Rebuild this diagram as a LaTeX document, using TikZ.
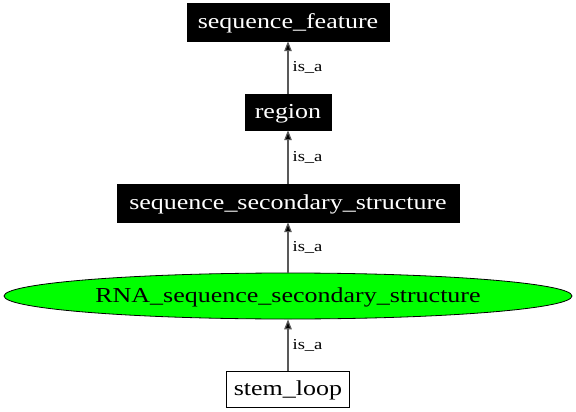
\documentclass[tikz,border=0pt]{standalone}
\usepackage{fontspec}
\setmainfont{Liberation Serif}
\newfontfamily\nodefont[FakeStretch=1.22]{Liberation Serif}
\usetikzlibrary{arrows.meta,shapes.geometric}
\begin{document}
\begin{tikzpicture}[x=1pt,y=-1pt,
  nfont/.style={font=\nodefont\fontsize{21.3}{26}\selectfont,text height=18pt,text depth=4.5pt},
  blackbox/.style={rectangle,fill=black,draw=black,text=white,inner sep=0pt,nfont},
  whitebox/.style={rectangle,fill=white,draw=black,line width=0.8pt,inner sep=0pt,nfont},
  greenell/.style={ellipse,fill=green,draw=black,line width=0.8pt,inner sep=0pt,nfont},
  edge/.style={draw=black!65,line width=1.2pt,-{Triangle[length=10pt,width=7.5pt,fill=black]}},
  lbl/.style={anchor=west,inner sep=0pt,xshift=4pt,font=\nodefont\fontsize{15.2}{18}\selectfont}]
\useasboundingbox (0,0) rectangle (576,412);
\node[blackbox,minimum width=202pt,minimum height=38pt] (sf) at (288,22) {sequence\_feature};
\node[blackbox,minimum width=86pt,minimum height=36pt] (reg) at (288,112) {region};
\node[blackbox,minimum width=342pt,minimum height=38pt] (sss) at (288,203) {sequence\_secondary\_structure};
\node[greenell,minimum width=568pt,minimum height=46pt] (rna) at (288,296) {RNA\_sequence\_secondary\_structure};
\node[whitebox,minimum width=123pt,minimum height=36pt] (stem) at (288,389) {stem\_loop};
\draw[edge] (reg.north) -- node[lbl] {is\_a} (sf.south);
\draw[edge] (sss.north) -- node[lbl] {is\_a} (reg.south);
\draw[edge] (rna.north) -- node[lbl] {is\_a} (sss.south);
\draw[edge] (stem.north) -- node[lbl] {is\_a} (rna.south);
\end{tikzpicture}
\end{document}
